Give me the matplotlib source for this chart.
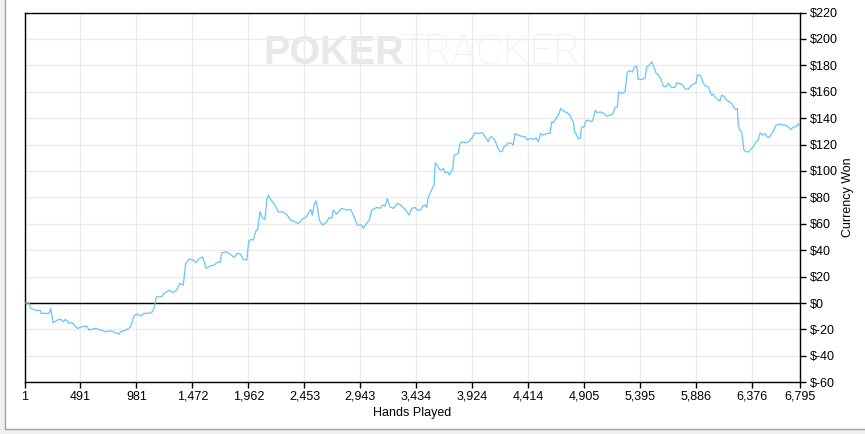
import matplotlib
matplotlib.use("Agg")
import matplotlib.pyplot as plt
from matplotlib.patches import Rectangle
from matplotlib.ticker import FixedLocator, FuncFormatter

# cumulative winnings (hand number, dollars)
hands = [1, 40, 55, 113, 137, 148, 216, 231, 251, 288, 318, 341, 362, 391, 420,
         464, 507, 546, 566, 625, 669, 712, 756, 800, 829, 844, 873, 902, 931, 960,
         989, 1019, 1048, 1092, 1121, 1135, 1153, 1159, 1203, 1223, 1247, 1276, 1299,
         1334, 1363, 1392, 1413, 1445, 1480, 1503, 1524, 1562, 1591, 1626, 1661, 1699,
         1714, 1729, 1772, 1801, 1836, 1865, 1895, 1918, 1948, 1965, 1983, 2005, 2029,
         2044, 2064, 2088, 2108, 2123, 2137, 2167, 2196, 2224, 2263, 2283, 2303, 2333,
         2371, 2400, 2443, 2473, 2487, 2508, 2522, 2540, 2555, 2566, 2584, 2613, 2649,
         2671, 2692, 2706, 2736, 2780, 2824, 2859, 2888, 2917, 2955, 2969, 2993, 3022,
         3043, 3087, 3115, 3139, 3159, 3179, 3203, 3232, 3267, 3297, 3334, 3372, 3393,
         3422, 3442, 3472, 3490, 3510, 3525, 3539, 3560, 3577, 3589, 3600, 3617, 3635,
         3656, 3670, 3685, 3705, 3723, 3735, 3752, 3764, 3801, 3816, 3831, 3860, 3889,
         3910, 3928, 3948, 3977, 4015, 4027, 4050, 4064, 4079, 4094, 4123, 4143, 4167,
         4190, 4204, 4225, 4239, 4269, 4283, 4298, 4327, 4357, 4386, 4406, 4430, 4458,
         4482, 4502, 4523, 4546, 4576, 4605, 4620, 4634, 4657, 4678, 4699, 4716, 4736,
         4756, 4780, 4795, 4809, 4821, 4839, 4853, 4868, 4882, 4903, 4920, 4940, 4970,
         4984, 5002, 5019, 5043, 5078, 5102, 5130, 5154, 5174, 5194, 5207, 5233, 5262,
         5282, 5306, 5329, 5341, 5364, 5378, 5408, 5437, 5452, 5475, 5496, 5510, 5533,
         5554, 5575, 5597, 5621, 5641, 5671, 5700, 5715, 5744, 5767, 5787, 5816, 5837,
         5860, 5884, 5895, 5919, 5934, 5948, 5971, 5992, 6007, 6021, 6035, 6050, 6079,
         6094, 6109, 6129, 6147, 6176, 6197, 6211, 6234, 6246, 6254, 6269, 6284, 6298,
         6304, 6322, 6342, 6363, 6386, 6409, 6430, 6445, 6468, 6488, 6508, 6526, 6547,
         6567, 6585, 6620, 6664, 6692, 6713, 6736, 6766, 6780, 6795]
won = [0, 0, -4, -5.8, -5.3, -7.8, -7.8, -4, -14.9, -12.9, -12.3, -14.1, -12.3, -15.4, -14.9,
       -19.2, -17.9, -17.4, -20.4, -19.2, -20.4, -21.7, -21, -22.5, -23.5, -21.7, -21, -19.9, -17.9, -9.8,
       -8.3, -9.8, -7.8, -7.8, -6.6, -4, 3.5, 4.8, 4.8, 7.3, 8.6, 9.8, 7.8,
       9.8, 14.9, 13.6, 30, 33.3, 32.5, 30.5, 33, 35, 26.3, 28, 28.8, 31.3,
       30.5, 38, 38.8, 37, 34.6, 37.6, 37, 33, 32.5, 46.4, 48.2, 47.7, 54.7,
       55.8, 69.1, 64.1, 63.3, 78, 81.7, 77.4, 74.2, 69.1, 69.1, 67.9, 66.6, 62.8,
       61.5, 60.3, 64.1, 65.3, 67.9, 70.9, 66.6, 74.9, 77.4, 72.9, 62.8, 59, 61.5,
       64.9, 64.1, 70.4, 67.4, 71.7, 70.4, 70.9, 65.3, 59, 59, 56.5, 59.8, 62.8,
       70.4, 72.4, 71.7, 74.2, 73.4, 79.2, 72.9, 71.7, 75.4, 74.2, 70.9, 66.6, 71.7,
       72.4, 70.4, 70.4, 73.4, 74.2, 72.4, 80.4, 84.2, 87.5, 89.3, 106.2, 104.4, 101.2,
       100.7, 102, 98.6, 99.4, 96.9, 99.4, 100.7, 112, 113.3, 120.9, 122.1, 121.3, 122.1,
       123.9, 125.9, 128.9, 128.4, 128.9, 127.1, 123.9, 122.1, 125.4, 125.9, 123.4, 118.3, 114.5,
       115.3, 118.8, 119.6, 121.3, 120.9, 119.6, 128.4, 127.1, 126.3, 125.9, 123.4, 124.6, 123.9,
       125.1, 122.1, 128.4, 127.1, 128.4, 128.4, 137.2, 136.4, 139.8, 142.3, 147.3, 146, 144.8,
       144, 142.3, 139, 137.2, 129.6, 127.1, 124.6, 124.6, 133, 133.5, 138, 138.5, 137.2,
       139.8, 146, 144, 144.8, 143.5, 141.5, 142.3, 143, 148, 148.4, 159.9, 158.7, 159.9,
       175, 175.8, 175, 178.4, 179.4, 169.3, 169.3, 170.1, 178.8, 180.1, 182.6, 180.1, 174.3,
       172.5, 170.1, 164.2, 163.7, 166.3, 163.2, 163.2, 166.7, 166.3, 165, 162.4, 161.7, 164.2,
       165.7, 166.7, 172.5, 172.5, 170.1, 166.3, 164.2, 163.7, 159.9, 157.4, 158.2, 156.1, 153.6,
       153.1, 157.4, 156.6, 154.1, 152.3, 151.1, 148.6, 146.5, 147.3, 134.7, 130.9, 129.6, 119.6,
       115.8, 114.5, 114.5, 116.3, 118.3, 122.1, 123.4, 128.9, 127.1, 128.4, 125.9, 125.4, 128.4,
       130.9, 134.7, 135.5, 134.7, 133.5, 131.4, 133, 134, 136, 134]

x_ticks = [1, 491, 981, 1472, 1962, 2453, 2943, 3434, 3924, 4414, 4905, 5395, 5886, 6376, 6795]
y_ticks = [-60, -40, -20, 0, 20, 40, 60, 80, 100, 120, 140, 160, 180, 200, 220]

plt.rcParams['font.family'] = ['Liberation Sans', 'DejaVu Sans']

fig = plt.figure(figsize=(8.65, 4.34), dpi=100, facecolor='#f0f0f0')
# white panel with the grey frame of the window, kept behind the axes
fig.patches.append(Rectangle((4.5 / 865, 5 / 434), 1.0, 1.0, transform=fig.transFigure,
                             facecolor='white', edgecolor='#a0a0a0', linewidth=1, zorder=-10))

ax = fig.add_axes([24.5 / 865, 1 - 382.3 / 434, 775.5 / 865, 369.8 / 434])
ax.set_facecolor('white')

# watermark
ax.text(0.3075, 0.861, 'POKER', transform=ax.transAxes, fontsize=28.5, fontweight='bold',
        color='#e8e8e8', ha='left', va='baseline', zorder=0)
ax.text(0.4842, 0.861, 'TRACKER', transform=ax.transAxes, fontsize=30, fontweight='light',
        family=['Roboto', 'Liberation Sans'], color='#f1f1f1', ha='left', va='baseline', zorder=0)

ax.plot(hands, won, color='#66c6fb', linewidth=0.9, zorder=3)
ax.axhline(0, color='black', linewidth=1, zorder=2)

ax.set_xlim(1, 6795)
ax.set_ylim(-60, 220)
ax.xaxis.set_major_locator(FixedLocator(x_ticks))
ax.xaxis.set_major_formatter(FuncFormatter(lambda v, p: f"{int(round(v)):,}"))
ax.yaxis.set_major_locator(FixedLocator(y_ticks))
ax.yaxis.set_major_formatter(FuncFormatter(lambda v, p: f"${int(v)}" if v >= 0 else f"$-{int(-v)}"))
ax.yaxis.tick_right()
ax.grid(True, color='#ebebeb', linewidth=1, zorder=1)
ax.set_axisbelow(True)

ax.tick_params(axis='x', direction='out', length=4, width=1, pad=2, labelsize=9, colors='black')
ax.tick_params(axis='y', direction='out', length=4, width=1, pad=3, labelsize=9, colors='black')
for s in ax.spines.values():
    s.set_color('black')
    s.set_linewidth(1)

fig.text(412 / 865, 1 - 413 / 434, 'Hands Played', ha='center', va='center', fontsize=9)
fig.text(848 / 865, 1 - 197 / 434, 'Currency Won', ha='center', va='center', fontsize=9, rotation=90)

fig.savefig('out.png', dpi=100, facecolor=fig.get_facecolor())
